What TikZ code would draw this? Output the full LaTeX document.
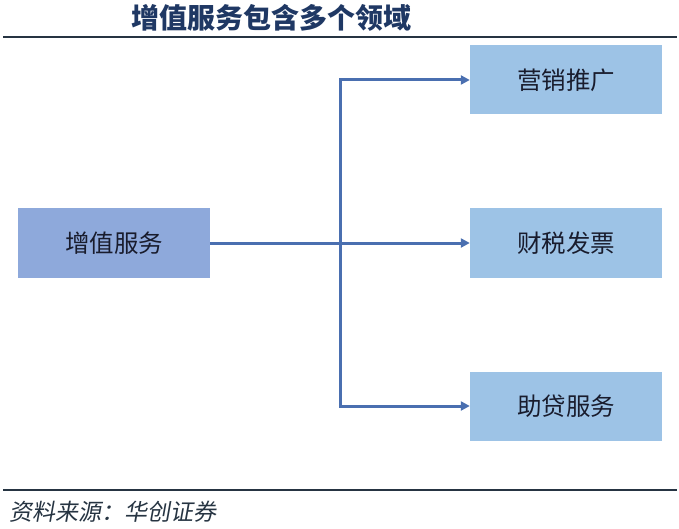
\documentclass[tikz,border=0pt]{standalone}
\usepackage{fontspec}
\setmainfont{Noto Sans CJK SC}
\newfontfamily\cjkslant[FakeSlant=0.18]{Noto Sans CJK SC}
\usetikzlibrary{arrows.meta}
\definecolor{titleblue}{RGB}{31,56,100}
\definecolor{rulecol}{RGB}{38,52,66}
\definecolor{mainfill}{RGB}{142,169,219}
\definecolor{subfill}{RGB}{157,195,230}
\definecolor{linkcol}{RGB}{74,111,176}
\definecolor{textcol}{RGB}{25,28,45}
\tikzset{
  mainbox/.style={fill=mainfill, minimum width=192pt, minimum height=69pt,
    inner sep=0pt, text=textcol, font=\fontsize{24.5}{24.5}\selectfont},
  subbox/.style={mainbox, fill=subfill},
  link/.style={draw=linkcol, line width=3pt, -{Triangle[length=9pt,width=9pt]}},
}
\begin{document}
\begin{tikzpicture}[x=1pt,y=-1pt]
  \useasboundingbox (0,0) rectangle (679,529);
  \node[text=titleblue, font=\fontsize{28}{28}\selectfont\bfseries] (title) at (271,18) {增值服务包含多个领域};
  \draw[rulecol, line width=2.6pt] (3,37) -- (677,37);
  \node[mainbox] (svc) at (114,243) {增值服务};
  \node[subbox] (mkt) at (566,80) {营销推广};
  \node[subbox] (tax) at (566,243) {财税发票};
  \node[subbox] (loan) at (566,406) {助贷服务};
  \coordinate (split) at (340,243);
  \draw[linkcol, line width=3pt] (svc.east) -- (split);
  \draw[link] (split) |- (mkt.west);
  \draw[link] (split) -- (tax.west);
  \draw[link] (split) |- (loan.west);
  \draw[rulecol, line width=2.6pt] (3,490) -- (677,490);
  \node[anchor=west, text=rulecol, font=\cjkslant\fontsize{23}{23}\selectfont] (src) at (6,512) {资料来源：华创证券};
\end{tikzpicture}
\end{document}
